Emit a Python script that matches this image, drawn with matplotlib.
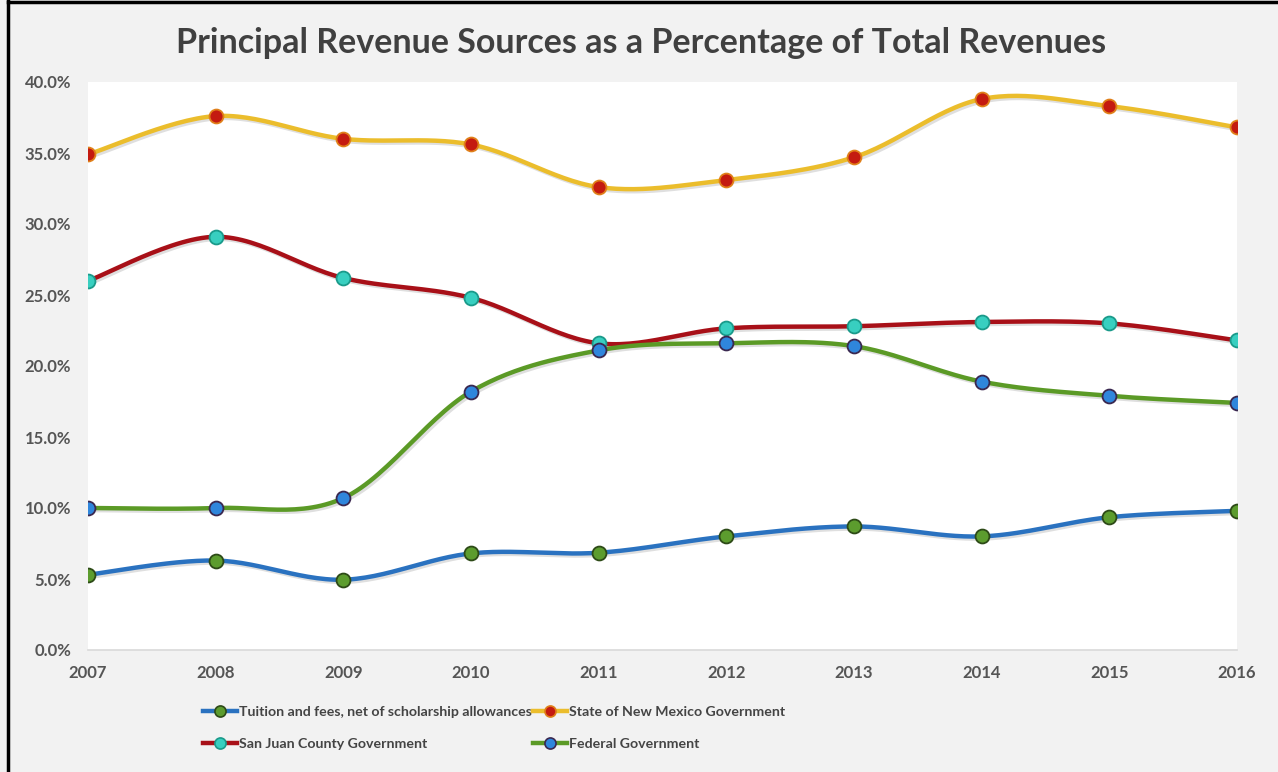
import numpy as np
import matplotlib
matplotlib.use("Agg")
import matplotlib.pyplot as plt
import matplotlib.patheffects as pe
from matplotlib.lines import Line2D

years = [2007, 2008, 2009, 2010, 2011, 2012, 2013, 2014, 2015, 2016]
tuition = [5.3, 6.3, 4.95, 6.8, 6.85, 8.0, 8.7, 8.0, 9.35, 9.8]
state_nm = [34.9, 37.6, 36.0, 35.6, 32.6, 33.1, 34.7, 38.8, 38.3, 36.8]
san_juan = [26.0, 29.1, 26.2, 24.8, 21.6, 22.65, 22.8, 23.1, 23.0, 21.8]
federal = [10.0, 10.0, 10.7, 18.2, 21.1, 21.6, 21.4, 18.9, 17.9, 17.4]
labels = ["Tuition and fees, net of scholarship allowances",
          "State of New Mexico Government",
          "San Juan County Government",
          "Federal Government"]
yticks = [0, 5, 10, 15, 20, 25, 30, 35, 40]
title = "Principal Revenue Sources as a Percentage of Total Revenues"

plt.rcParams['font.family'] = ['Lato', 'DejaVu Sans']


def smooth(xs, ys, n=30):
    # Excel-style smoothed line (Catmull-Rom / Bezier through the points)
    xs = np.asarray(xs, float)
    ys = np.asarray(ys, float)
    px = np.concatenate([[xs[0]], xs, [xs[-1]]])
    py = np.concatenate([[ys[0]], ys, [ys[-1]]])
    ox, oy = [], []
    for i in range(1, len(px) - 2):
        p0 = np.array([px[i], py[i]])
        p3 = np.array([px[i + 1], py[i + 1]])
        c1 = p0 + (np.array([px[i + 1], py[i + 1]]) - np.array([px[i - 1], py[i - 1]])) / 6
        c2 = p3 - (np.array([px[i + 2], py[i + 2]]) - np.array([px[i], py[i]])) / 6
        t = np.linspace(0, 1, n)[:, None]
        b = ((1 - t) ** 3) * p0 + 3 * ((1 - t) ** 2) * t * c1 + 3 * (1 - t) * t ** 2 * c2 + t ** 3 * p3
        ox.extend(b[:, 0])
        oy.extend(b[:, 1])
    return np.array(ox), np.array(oy)


fig = plt.figure(figsize=(12.78, 7.72), dpi=100)
fig.patch.set_facecolor('#f2f2f2')
ax = fig.add_axes([88 / 1278, 1 - 650 / 772, (1237 - 88) / 1278, (650 - 82) / 772])
ax.set_facecolor('white')

series = [
    (tuition, '#2a72c0', '#5c9c2e', '#2d4a17'),
    (state_nm, '#ebbd2c', '#c41a10', '#e0801a'),
    (san_juan, '#a81018', '#38cfc0', '#1a9a8a'),
    (federal, '#5b9a26', '#2f86dc', '#3a2850'),
]

shadow = [pe.SimpleLineShadow(offset=(1.5, -1.5), alpha=0.25, shadow_color='gray'), pe.Normal()]
handles = []
for (vals, lc, mc, mec), lab in zip(series, labels):
    sx, sy = smooth(years, vals)
    ax.plot(sx, sy, color=lc, lw=3.2, solid_capstyle='round', zorder=2, path_effects=shadow)
    ax.plot(years, vals, ls='none', marker='o', ms=10, mfc=mc, mec=mec, mew=1.3, zorder=3)
    handles.append(Line2D([0], [0], color=lc, lw=3.2, marker='o', ms=8, mfc=mc, mec=mec, mew=1.2))

ax.set_xlim(2007, 2016)
ax.set_ylim(0, 40)
ax.set_yticks(yticks)
ax.set_yticklabels([f"{v:.1f}%" for v in yticks])
ax.set_xticks(years)
ax.set_xticklabels([str(y) for y in years])
for s in ['top', 'left', 'right']:
    ax.spines[s].set_visible(False)
ax.spines['bottom'].set_color('#d9d9d9')
ax.spines['bottom'].set_linewidth(1.2)
ax.tick_params(length=0, labelsize=12, colors='#555555')
for t in ax.get_xticklabels() + ax.get_yticklabels():
    t.set_fontweight('bold')
ax.tick_params(axis='x', pad=11)
ax.tick_params(axis='y', pad=12)

fig.text(0.502, 1 - 43 / 772, title, ha='center', va='center', fontsize=24.5,
         color='#404040', fontweight='bold')

# row-wise legend order (matplotlib fills columns first)
order = [0, 2, 1, 3]
leg = fig.legend([handles[i] for i in order], [labels[i] for i in order],
                 loc='upper left', bbox_to_anchor=(190 / 1278, 1 - 693 / 772),
                 ncol=2, frameon=False, fontsize=10.2, handlelength=2.4, handletextpad=0.15,
                 columnspacing=0.1, labelspacing=1.4, labelcolor='#444444')
for t in leg.get_texts():
    t.set_fontweight('bold')

# figure border (left and top)
fig.add_artist(Line2D([8 / 1278, 8 / 1278], [0, 1 - 1 / 772], color='black', lw=2.5,
                      transform=fig.transFigure))
fig.add_artist(Line2D([8 / 1278, 1], [1 - 2 / 772, 1 - 2 / 772], color='black', lw=2.5,
                      transform=fig.transFigure))

fig.savefig('out.png', dpi=100, facecolor=fig.get_facecolor())
